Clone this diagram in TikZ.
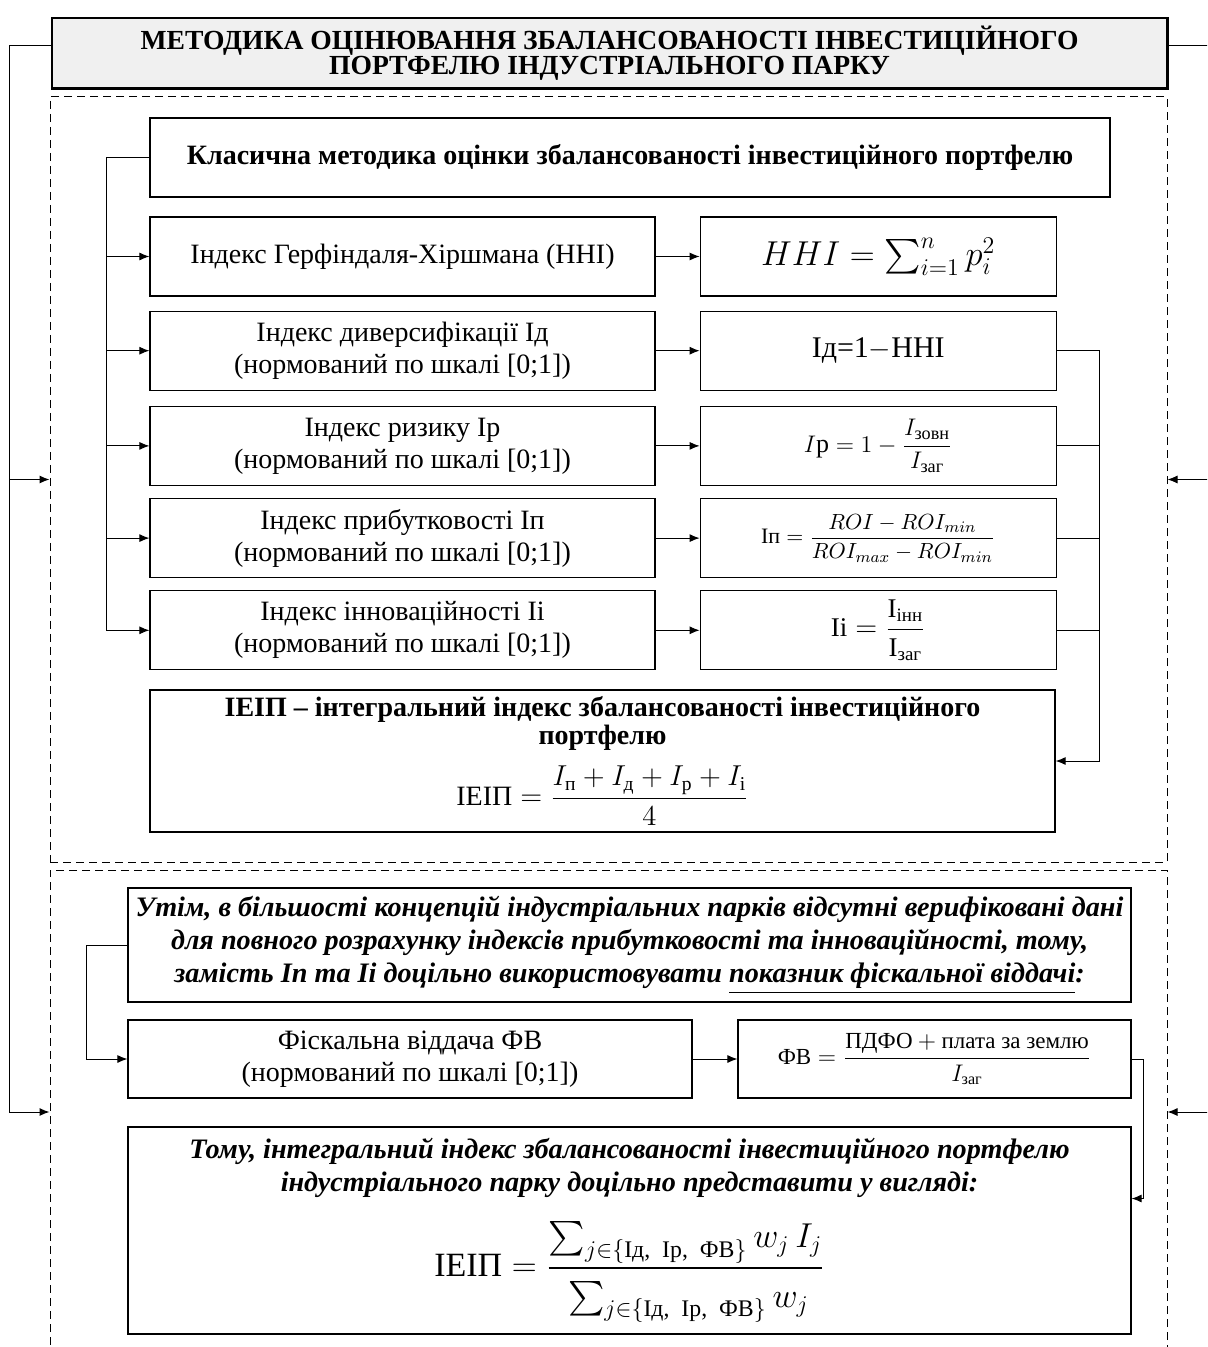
\documentclass[tikz,border=0pt]{standalone}
\usepackage{amsmath}
\usepackage{fontspec}
\setmainfont{Liberation Serif}
\usetikzlibrary{arrows.meta}
\usetikzlibrary{positioning}
\tikzset{main box/.style={rectangle,draw,line width=0.6pt,inner sep=2pt,align=center,minimum height=39.5pt,font=\fontsize{14}{16}\selectfont}}
\tikzset{frame box/.style={rectangle,draw,dash pattern=on 4pt off 2.5pt,line width=0.5pt,inner sep=0pt}}

\begin{document}
\begin{tikzpicture}[x=0.5pt,y=-0.5pt,>={Latex[length=5pt,width=4pt]},line width=0.5pt]
    \useasboundingbox (0,0) rectangle (1207,1347);
    \clip (0,0) rectangle (1207,1347);

    % title and the two frames
    \node[main box,minimum width=557.5pt,minimum height=35pt,fill=black!6,font=\fontsize{13.8}{12.5}\selectfont\bfseries] (title) at (609.5,53) {МЕТОДИКА ОЦІНЮВАННЯ ЗБАЛАНСОВАНОСТІ ІНВЕСТИЦІЙНОГО\\ПОРТФЕЛЮ ІНДУСТРІАЛЬНОГО ПАРКУ};
    \draw[line width=1.5pt] (title.south west) -- (title.south east) -- (title.north east);
    \node[frame box,minimum width=558.5pt,minimum height=382.5pt] (frame_{1}) at (608.5,479.5) {};
    \node[frame box,minimum width=558.5pt,minimum height=242pt] (frame_{2}) at (608.5,1112) {};

    % classical method
    \node[main box,minimum width=480pt,font=\fontsize{14}{16}\selectfont\bfseries] (klas) at (630,157.5) {Класична методика оцінки збалансованості інвестиційного портфелю};
    \node[main box,minimum width=252.5pt] (idx_{1}) at (402.5,256.5) {Індекс Герфіндаля-Хіршмана (ННІ)};
    \node[main box,minimum width=252.5pt] (idx_{2}) [below=7pt of idx_{1}] {Індекс диверсифікації Ід\\(нормований по шкалі [0;1])};
    \node[main box,minimum width=252.5pt] (idx_{3}) [below=7.5pt of idx_{2}] {Індекс ризику Ір\\(нормований по шкалі [0;1])};
    \node[main box,minimum width=252.5pt] (idx_{4}) [below=6pt of idx_{3}] {Індекс прибутковості Іп\\(нормований по шкалі [0;1])};
    \node[main box,minimum width=252.5pt] (idx_{5}) [below=6pt of idx_{4}] {Індекс інноваційності Іі\\(нормований по шкалі [0;1])};

    \node[main box,minimum width=178pt,font=\fontsize{17}{20}\selectfont] (frm_{1}) [right=22pt of idx_{1}] {$HHI = \sum_{i=1}^{n} p_i^2$};
    \node[main box,minimum width=178pt,font=\fontsize{15}{18}\selectfont] (frm_{2}) [right=22pt of idx_{2}] {Ід=1$-$ННІ};
    \node[main box,minimum width=178pt,font=\fontsize{13}{14}\selectfont] (frm_{3}) [right=22pt of idx_{3}] {$I\text{р} = 1 - \dfrac{I_{\text{зовн}}}{I_{\text{заг}}}$};
    \node[main box,minimum width=178pt,font=\fontsize{11}{14}\selectfont] (frm_{4}) [right=22pt of idx_{4}] {$\text{Іп} = \dfrac{ROI - ROI_{min}}{ROI_{max} - ROI_{min}}$};
    \node[main box,minimum width=178pt,font=\fontsize{13.5}{14}\selectfont] (frm_{5}) [right=22pt of idx_{5}] {$\text{Іі} = \dfrac{\text{І}_{\text{інн}}}{\text{І}_{\text{заг}}}$};

    \node[main box,minimum width=452.5pt,minimum height=71pt,font=\fontsize{14}{12}\selectfont] (sum_{1}) at (602.5,761) {\textbf{ІЕІП – інтегральний індекс збалансованості інвестиційного}\\\textbf{портфелю}\\[7pt]$\text{ІЕІП} = \dfrac{I_{\text{п}} + I_{\text{д}} + I_{\text{р}} + I_{\text{і}}}{4}$};

    % fiscal return
    \node[main box,minimum width=501.5pt,minimum height=57pt,font=\fontsize{14.1}{16.5}\selectfont\bfseries\itshape] (note) at (629.5,945) {Утім, в більшості концепцій індустріальних парків відсутні верифіковані дані\\для повного розрахунку індексів прибутковості та інноваційності, тому,\\замість Іп та Іі доцільно використовувати \underline{показник фіскальної віддачі}:};
    \node[main box,minimum width=282pt,minimum height=39pt] (fisc) at (410,1059) {Фіскальна віддача ФВ\\(нормований по шкалі [0;1])};
    \node[main box,minimum width=196.5pt,minimum height=39pt,font=\fontsize{11.5}{14}\selectfont] (fv) at (934.5,1059) {$\text{ФВ} = \dfrac{\text{ПДФО} + \text{плата за землю}}{I_{\text{заг}}}$};
    \node[main box,minimum width=501.5pt,minimum height=103.5pt,font=\fontsize{14.1}{16.5}\selectfont] (final) at (629.5,1230.5) {\textbf{\textit{Тому, інтегральний індекс збалансованості інвестиційного портфелю}}\\\textbf{\textit{індустріального парку доцільно представити у вигляді:}}\\[11pt]{\fontsize{17}{20}\selectfont$\text{ІЕІП} = \dfrac{\sum_{j\in\{\text{Ід,\ \ Ір,\ \ ФВ}\}} w_j\, I_j\rule[-5pt]{0pt}{0pt}}{\rule{0pt}{17pt}\sum_{j\in\{\text{Ід,\ \ Ір,\ \ ФВ}\}} w_j}$}};

    % connectors
    \draw[->] ([yshift=3.5pt]title.west) -- ++(-42,0) coordinate (outL) |- (frame_{1}.west);
    \draw[->] (outL) |- (frame_{2}.west);
    \draw[->] ([yshift=3.5pt]title.east) -- ++(50,0) coordinate (outR) |- (frame_{1}.east);
    \draw[->] (outR) |- (frame_{2}.east);

    \draw (klas.west) -- ++(-43,0) coordinate (busL);
    \foreach \k in {1,...,5} {
        \draw[->] (busL) |- (idx_{\k}.west);
        \path[->] (idx_{\k}) edge (frm_{\k});
    }
    \draw[->] (frm_{2}.east) -- ++(43,0) coordinate (busR) |- (sum_{1}.east);
    \foreach \k in {3,4,5}
        \draw (frm_{\k}.east) -- (frm_{\k}.east -| busR);

    \draw[->] (note.west) -- ++(-41,0) |- (fisc.west);
    \path[->] (fisc) edge (fv);
    \draw[->] (fv.east) -- ++(12,0) |- ([yshift=16pt]final.east);
\end{tikzpicture}
\end{document}
